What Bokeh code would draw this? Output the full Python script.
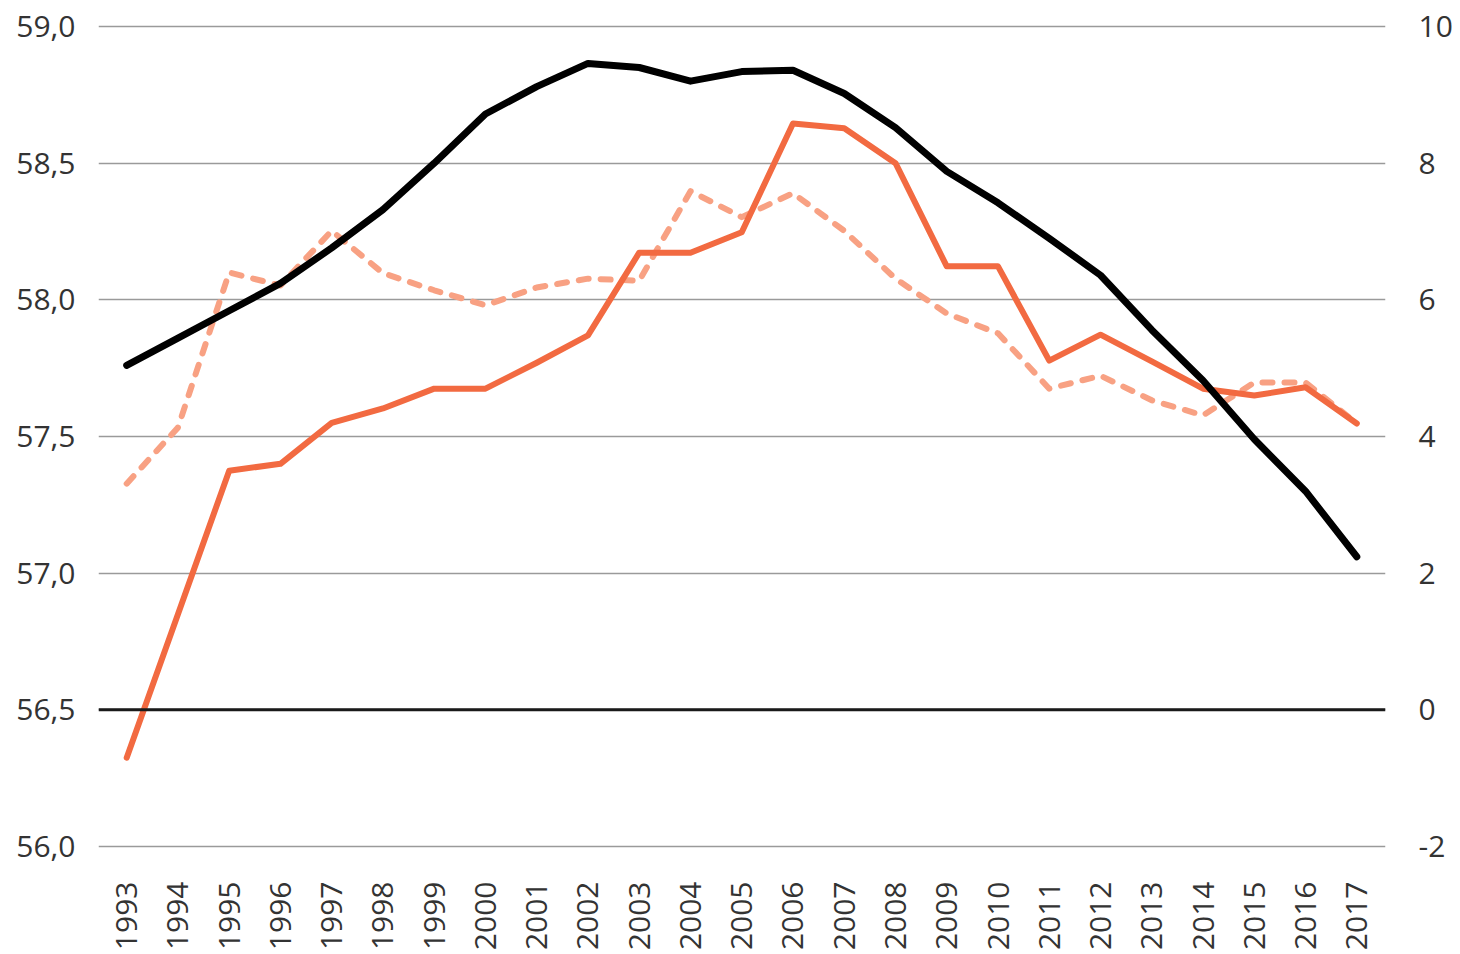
import math
from bokeh.plotting import figure
from bokeh.models import Range1d, LinearAxis, FixedTicker, CustomJSTickFormatter, Span, ColumnDataSource
from bokeh.embed import file_html
from bokeh.resources import INLINE

years = list(range(1993, 2018))
black_series = [57.76, 57.86, 57.96, 58.06, 58.19, 58.33, 58.50, 58.68, 58.78, 58.865,
                58.85, 58.80, 58.835, 58.84, 58.755, 58.63, 58.47, 58.355, 58.225, 58.09,
                57.89, 57.705, 57.49, 57.30, 57.06]
orange_solid = [-0.70, 1.40, 3.50, 3.60, 4.20, 4.41, 4.70, 4.70, 5.08, 5.48,
                6.69, 6.69, 6.99, 8.58, 8.51, 8.00, 6.49, 6.49, 5.11, 5.49,
                5.10, 4.70, 4.60, 4.72, 4.19]
orange_dashed = [3.31, 4.13, 6.40, 6.21, 7.01, 6.39, 6.14, 5.92, 6.18, 6.31,
                 6.28, 7.59, 7.21, 7.56, 7.01, 6.31, 5.80, 5.51, 4.70, 4.89,
                 4.53, 4.31, 4.79, 4.79, 4.19]
left_ticks = [56.0, 56.5, 57.0, 57.5, 58.0, 58.5, 59.0]
right_ticks = [-2, 0, 2, 4, 6, 8, 10]

src = ColumnDataSource(dict(x=years, b=black_series, s=orange_solid, d=orange_dashed))

FONT = "Open Sans"
TXT = "#333333"
FS = "30px"
PAD = 2.0 / 273.33  # small padding so edge gridlines are fully visible

p = figure(width=1460, height=954, output_backend="svg", toolbar_location=None,
           x_range=Range1d(1992.45, 2017.56), y_range=Range1d(56.0 - PAD, 59.0 + PAD),
           min_border_left=98, min_border_right=75, min_border_top=24, min_border_bottom=106)
p.outline_line_color = None
p.extra_y_ranges = {"right": Range1d(-2 - 4 * PAD, 10 + 4 * PAD)}

la = p.yaxis[0]
la.ticker = FixedTicker(ticks=left_ticks)
la.formatter = CustomJSTickFormatter(code="return tick.toFixed(1).replace('.', ',');")
ra = LinearAxis(y_range_name="right", ticker=FixedTicker(ticks=right_ticks),
                formatter=CustomJSTickFormatter(code="return tick.toFixed(0);"))
p.add_layout(ra, "right")
for ax in [la, ra]:
    ax.axis_line_color = None
    ax.major_tick_line_color = None
    ax.minor_tick_line_color = None
    ax.major_label_text_font = FONT
    ax.major_label_text_font_size = FS
    ax.major_label_text_color = TXT
la.major_label_standoff = 17
ra.major_label_standoff = 27

xa = p.xaxis[0]
xa.ticker = FixedTicker(ticks=years)
xa.axis_line_color = None
xa.major_tick_line_color = None
xa.minor_tick_line_color = None
xa.major_label_orientation = math.pi / 2
xa.major_label_text_font = FONT
xa.major_label_text_font_size = FS
xa.major_label_text_color = TXT
xa.major_label_standoff = 27

p.xgrid.grid_line_color = None
p.ygrid.grid_line_color = "#9a9a9a"
p.ygrid.grid_line_width = 1.3
p.ygrid.ticker = FixedTicker(ticks=left_ticks)

zero = Span(location=0, dimension="width", y_range_name="right", line_color="#1a1a1a", line_width=3)
p.add_layout(zero)

p.line("x", "d", source=src, y_range_name="right", line_color="#F8A183", line_width=6,
       line_dash="10 12", line_join="round", line_cap="round")
p.line("x", "s", source=src, y_range_name="right", line_color="#F26A41", line_width=6,
       line_join="round", line_cap="round")
p.line("x", "b", source=src, line_color="#000000", line_width=7,
       line_join="round", line_cap="round")

open("out.html", "w").write(file_html(p, INLINE))
